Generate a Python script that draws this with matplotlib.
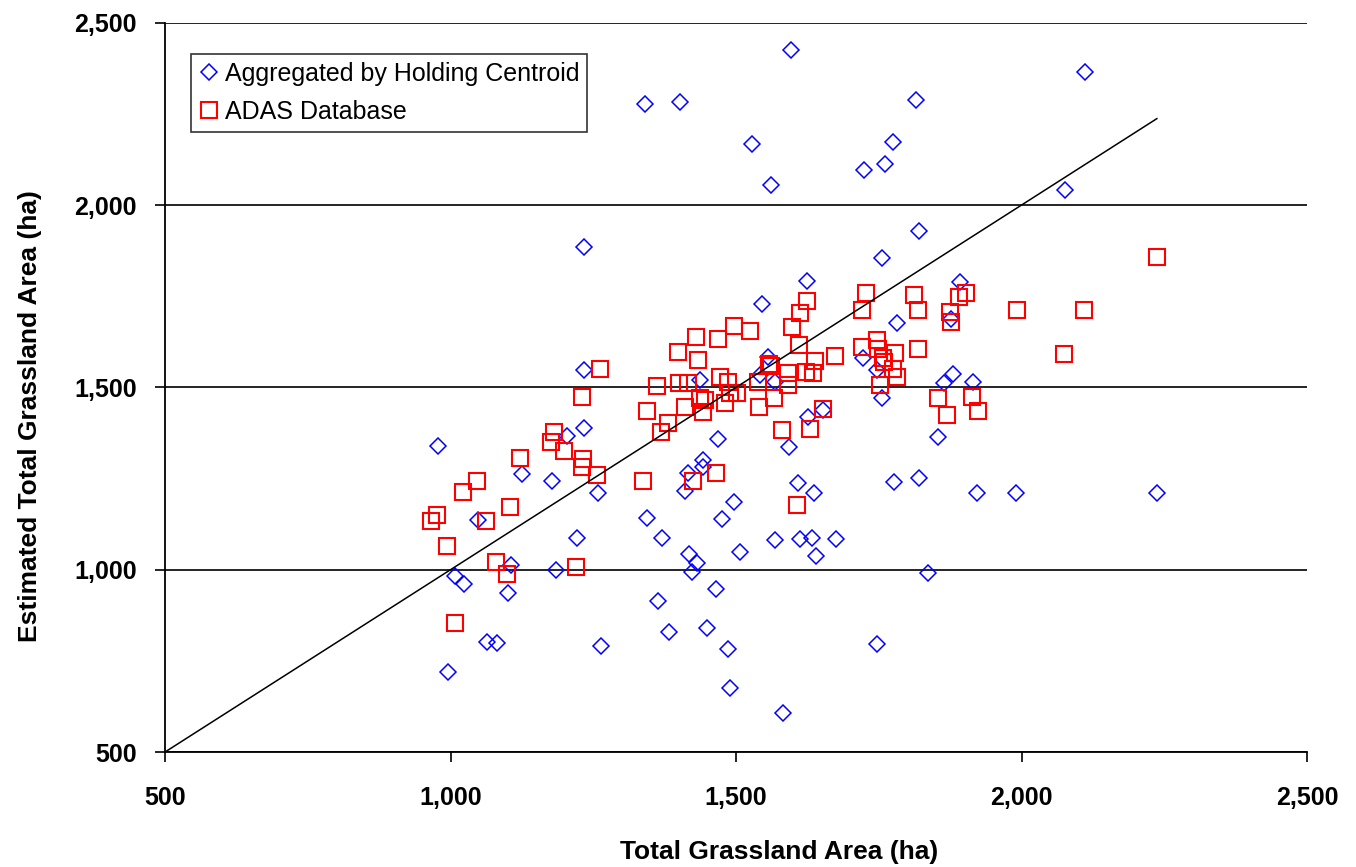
import matplotlib.pyplot as plt
from matplotlib.ticker import FuncFormatter

# Aggregated by Holding Centroid (blue diamonds)
blue_x = [1596, 1341, 1402, 2111, 1815, 1528, 1775, 1724, 1761, 1561,
          2076, 1820, 1234, 1233, 1437, 1233, 1204, 978, 1442, 1442,
          1416, 1125, 1178, 1411, 1258, 1048, 1344, 1370, 1222, 1106,
          1185, 1418, 1432, 1423, 1008, 1024, 1101, 1363, 1064, 1081,
          1264, 1383, 996, 1449, 1609, 1637, 1777, 1820, 1922, 1496,
          1475, 1568, 1612, 1633, 1675, 1507, 1640, 1836, 1465, 1486,
          1747, 1489, 1582, 1756, 1624, 1545, 1782, 1892, 1877, 1556,
          1722, 1747, 1542, 1568, 1756, 1864, 1880, 1915, 1626, 1652,
          1468, 1593, 1854, 1990, 2237]
blue_y = [2425, 2277, 2282, 2365, 2288, 2167, 2173, 2096, 2112, 2055,
          2041, 1929, 1885, 1548, 1520, 1389, 1367, 1339, 1301, 1282,
          1265, 1262, 1243, 1216, 1210, 1136, 1142, 1087, 1087, 1013,
          999, 1043, 1018, 994, 983, 961, 936, 914, 802, 799,
          791, 829, 720, 840, 1238, 1210, 1240, 1251, 1210, 1186,
          1139, 1081, 1084, 1087, 1084, 1049, 1038, 991, 947, 783,
          796, 676, 607, 1855, 1792, 1729, 1677, 1789, 1688, 1583,
          1581, 1548, 1534, 1515, 1471, 1512, 1537, 1515, 1419, 1438,
          1358, 1336, 1364, 1210, 1210]

# ADAS Database (red squares)
red_x = [1262, 1430, 1398, 1433, 1362, 1400, 1416, 1446, 1230, 1344,
         1411, 1442, 1381, 1369, 1181, 1176, 1199, 1122, 1232, 1230,
         1257, 1046, 1337, 1425, 1022, 1104, 976, 966, 1062, 994,
         1080, 1099, 1220, 1008, 1465, 1607,
         1624, 1612, 1598, 1496, 1524, 1468, 1728, 1721, 1812, 1819,
         1875, 1876, 1890, 1902, 1610, 1721, 1747, 1749, 1778, 1819,
         1673, 1638, 1558, 1561, 1757, 1759, 1775, 1782, 1752, 1622,
         1635, 1591, 1591, 1472, 1486, 1502, 1538, 1437, 1489, 1481,
         1540, 1566, 1854, 1869, 1913, 1924, 1652, 1580, 1630, 2237,
         1992, 2109, 2074]
red_y = [1550, 1638, 1597, 1575, 1504, 1512, 1512, 1465, 1474, 1435,
         1446, 1432, 1402, 1378, 1378, 1350, 1326, 1306, 1304, 1282,
         1260, 1243, 1243, 1243, 1213, 1172, 1150, 1134, 1134, 1065,
         1021, 988, 1007, 854, 1265, 1178,
         1737, 1704, 1666, 1668, 1655, 1633, 1759, 1712, 1753, 1712,
         1707, 1679, 1748, 1759, 1616, 1611, 1630, 1605, 1594, 1605,
         1586, 1572, 1564, 1559, 1581, 1570, 1550, 1528, 1506, 1542,
         1539, 1539, 1506, 1528, 1515, 1485, 1515, 1471, 1485, 1457,
         1446, 1471, 1471, 1424, 1474, 1435, 1441, 1383, 1386, 1857,
         1712, 1712, 1591]

ticks = [500, 1000, 1500, 2000, 2500]

plt.rcParams['font.family'] = ['Liberation Sans', 'DejaVu Sans']

fig = plt.figure(figsize=(13.56, 8.67), dpi=100)
ax = fig.add_axes([0.1217, 0.1326, 0.8422, 0.8412])

ax.plot(blue_x, blue_y, linestyle='none', marker='D', markersize=8,
        markerfacecolor='none', markeredgecolor='#0000ff', markeredgewidth=1.1,
        label='Aggregated by Holding Centroid', zorder=3)
ax.plot(red_x, red_y, linestyle='none', marker='s', markersize=11,
        markerfacecolor='none', markeredgecolor='#ff0000', markeredgewidth=1.5,
        label='ADAS Database', zorder=4)

# 1:1 line
xmax = max(max(blue_x), max(red_x))
ax.plot([500, xmax], [500, xmax], color='black', linewidth=1.1, zorder=5)

ax.set_xlim(500, 2500)
ax.set_ylim(500, 2500)
ax.set_xticks(ticks)
ax.set_yticks(ticks)
fmt = FuncFormatter(lambda v, p: f'{int(v):,}')
ax.xaxis.set_major_formatter(fmt)
ax.yaxis.set_major_formatter(fmt)

ax.yaxis.grid(True, color='black', linewidth=1.2)
ax.set_axisbelow(True)
for s in ['top', 'right']:
    ax.spines[s].set_visible(False)
for s in ['left', 'bottom']:
    ax.spines[s].set_linewidth(1.3)

ax.tick_params(axis='both', direction='out', length=7.5, width=1.2,
               labelsize=18)
ax.tick_params(axis='y', pad=13)
ax.tick_params(axis='x', pad=17)
for lab in ax.get_xticklabels() + ax.get_yticklabels():
    lab.set_fontweight('bold')

ax.set_xlabel('Total Grassland Area (ha)', fontsize=19, fontweight='bold')
ax.xaxis.set_label_coords(0.538, -0.12)
ax.set_ylabel('Estimated Total Grassland Area (ha)', fontsize=19,
              fontweight='bold')
ax.yaxis.set_label_coords(-0.108, 0.46)

leg = ax.legend(loc='upper left', bbox_to_anchor=(0.0228, 0.957),
                borderaxespad=0, fontsize=18, frameon=True, fancybox=False,
                edgecolor='black', handlelength=0.8, handletextpad=0.25,
                borderpad=0.3, labelspacing=0.58, markerscale=1.0)
leg.get_frame().set_linewidth(1.2)

fig.savefig('out.png', dpi=100)
